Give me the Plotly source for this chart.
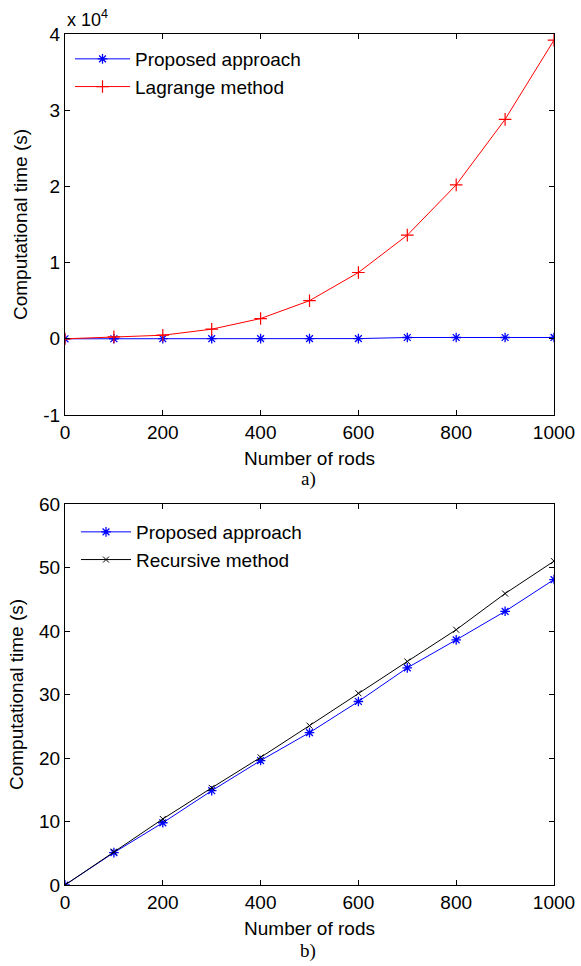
import plotly.graph_objects as go

rods = [0, 100, 200, 300, 400, 500, 600, 700, 800, 900, 1000]

# panel a (seconds)
proposed_a = [0, 5, 10, 15, 20, 24, 29, 170, 170, 170, 175]
lagrange_a = [0, 250, 470, 1260, 2660, 5000, 8700, 13600, 20200, 28800, 39200]

# panel b (seconds)
proposed_b = [0, 5.1, 9.8, 14.85, 19.6, 24.0, 28.9, 34.2, 38.6, 43.1, 48.1]
recursive_b = [0, 5.25, 10.4, 15.3, 20.1, 25.1, 30.2, 35.2, 40.2, 45.9, 51.0]

ticks_a = [-10000, 0, 10000, 20000, 30000, 40000]
ticktext_a = ["-1", "0", "1", "2", "3", "4"]
ticks_x = [0, 200, 400, 600, 800, 1000]
ticks_b = [0, 10, 20, 30, 40, 50, 60]

FONT = "Liberation Sans, Arial, sans-serif"
SERIF = "Liberation Serif, Times New Roman, serif"
W, H = 581, 966

fig = go.Figure()
fig.add_trace(go.Scatter(x=rods, y=proposed_a, mode="lines+markers", name="Proposed approach",
                         line=dict(color="#0000ff", width=1),
                         marker=dict(symbol="asterisk-open", size=8, color="#0000ff", line=dict(width=1.3, color="#0000ff")),
                         xaxis="x", yaxis="y", legend="legend"))
fig.add_trace(go.Scatter(x=rods, y=lagrange_a, mode="lines+markers", name="Lagrange method",
                         line=dict(color="#ff0000", width=1),
                         marker=dict(symbol="cross-thin-open", size=9, color="#ff0000", line=dict(width=1.2, color="#ff0000")),
                         xaxis="x", yaxis="y", legend="legend"))
fig.add_trace(go.Scatter(x=rods, y=proposed_b, mode="lines+markers", name="Proposed approach",
                         line=dict(color="#0000ff", width=1),
                         marker=dict(symbol="asterisk-open", size=8, color="#0000ff", line=dict(width=1.3, color="#0000ff")),
                         xaxis="x2", yaxis="y2", legend="legend2"))
fig.add_trace(go.Scatter(x=rods, y=recursive_b, mode="lines+markers", name="Recursive method",
                         line=dict(color="#000000", width=1),
                         marker=dict(symbol="x-thin-open", size=6, color="#000000", line=dict(width=1, color="#000000")),
                         xaxis="x2", yaxis="y2", legend="legend2"))

xd = [65 / W, 554 / W]
yd_a = [1 - 415 / H, 1 - 34 / H]
yd_b = [1 - 885 / H, 1 - 504 / H]

axcommon = dict(showline=True, linecolor="black", linewidth=1, mirror="ticks", ticks="inside",
                ticklen=5, tickcolor="black", showgrid=False, zeroline=False, automargin=False,
                tickfont=dict(family=FONT, size=19, color="black"))

fig.update_layout(
    width=W, height=H, margin=dict(l=0, r=0, t=0, b=0),
    paper_bgcolor="white", plot_bgcolor="white",
    font=dict(family=FONT, size=19, color="black"),
    xaxis=dict(domain=xd, anchor="y", range=[0, 1000], tickvals=ticks_x,
               title=dict(text="Number of rods", font=dict(size=19), standoff=9), **axcommon),
    yaxis=dict(domain=yd_a, anchor="x", range=[-10000, 40000], tickvals=ticks_a, ticktext=ticktext_a,
               title=dict(text="Computational time (s)", font=dict(size=19), standoff=10), **axcommon),
    xaxis2=dict(domain=xd, anchor="y2", range=[0, 1000], tickvals=ticks_x,
                title=dict(text="Number of rods", font=dict(size=19), standoff=9), **axcommon),
    yaxis2=dict(domain=yd_b, anchor="x2", range=[0, 60], tickvals=ticks_b,
                title=dict(text="Computational time (s)", font=dict(size=19), standoff=10), **axcommon),
    legend=dict(x=70 / W, y=1 - 40 / H, xanchor="left", yanchor="top",
                bgcolor="rgba(0,0,0,0)", font=dict(size=19), tracegroupgap=0, itemwidth=55),
    legend2=dict(x=76 / W, y=1 - 513 / H, xanchor="left", yanchor="top",
                 bgcolor="rgba(0,0,0,0)", font=dict(size=19), tracegroupgap=0, itemwidth=50),
    annotations=[
        dict(text="x 10<sup>4</sup>", xref="paper", yref="paper", x=xd[0], y=yd_a[1], xanchor="left",
             yanchor="bottom", showarrow=False, font=dict(size=18), yshift=2),
        dict(text="a)", xref="paper", yref="paper", x=308 / W, y=1 - 479 / H, xanchor="center",
             yanchor="middle", showarrow=False, font=dict(family=SERIF, size=19)),
        dict(text="b)", xref="paper", yref="paper", x=308 / W, y=1 - 951 / H, xanchor="center",
             yanchor="middle", showarrow=False, font=dict(family=SERIF, size=19)),
    ],
)

fig.write_html("out.html")
